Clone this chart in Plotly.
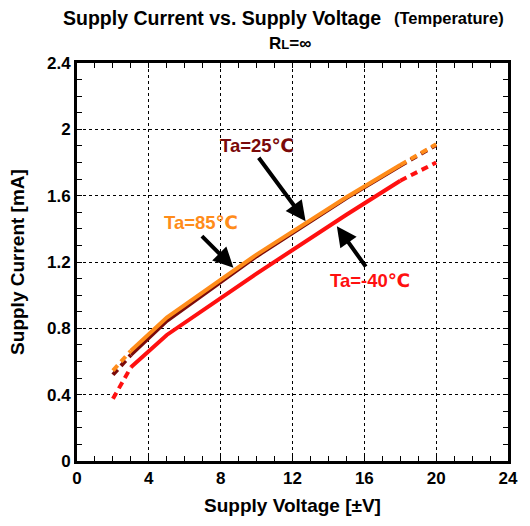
import plotly.graph_objects as go

# Supply voltage [±V] sampling points
voltage = [2, 3, 5, 10, 15, 18, 20]

# Supply current [mA] per ambient temperature
current_85 = [0.545, 0.665, 0.865, 1.245, 1.590, 1.785, 1.910]
current_25 = [0.520, 0.640, 0.845, 1.235, 1.585, 1.780, 1.905]
current_m40 = [0.375, 0.565, 0.760, 1.130, 1.485, 1.690, 1.800]

x_ticks = [0, 4, 8, 12, 16, 20, 24]
y_ticks = [0, 0.4, 0.8, 1.2, 1.6, 2.0, 2.4]
y_tick_text = ["0", "0.4", "0.8", "1.2", "1.6", "2", "2.4"]

FONT = "Liberation Sans, Arial, DejaVu Sans, sans-serif"

series = [
    ("Ta=-40℃", current_m40, "#ff1010"),
    ("Ta=25℃", current_25, "#7a0a0a"),
    ("Ta=85℃", current_85, "#ff8c1a"),
]

fig = go.Figure()

# Solid over the guaranteed range (3..18 V), dashed for the extrapolated ends
for name, cur, color in series:
    i3 = voltage.index(3)
    i18 = voltage.index(18)
    segments = [
        (voltage[: i3 + 1], cur[: i3 + 1], "7px,5px"),
        (voltage[i3: i18 + 1], cur[i3: i18 + 1], "solid"),
        (voltage[i18:], cur[i18:], "7px,5px"),
    ]
    for xs, ys, dash in segments:
        fig.add_trace(go.Scatter(
            x=xs, y=ys, mode="lines", name=name, showlegend=False,
            line=dict(color=color, width=4, dash=dash),
            hoverinfo="skip",
        ))

axis_common = dict(
    showline=True, linecolor="black", linewidth=3, mirror="allticks",
    ticks="inside", ticklen=5, tickwidth=1, tickcolor="black",
    showgrid=True, gridcolor="black", gridwidth=1, griddash="3px,3px",
    zeroline=False,
    tickfont=dict(family=FONT, size=17, color="black", weight="bold"),
)

fig.update_xaxes(
    range=[0, 24], tickvals=x_ticks,
    minor=dict(dtick=1, ticks="inside", ticklen=5, tickcolor="black", showgrid=False),
    title=dict(text="Supply Voltage [±V]", standoff=12,
               font=dict(family=FONT, size=19, color="black", weight="bold")),
    **axis_common,
)
fig.update_yaxes(
    range=[0, 2.4], tickvals=y_ticks, ticktext=y_tick_text,
    minor=dict(dtick=0.1, ticks="inside", ticklen=5, tickcolor="black", showgrid=False),
    title=dict(text="Supply Current [mA]", standoff=18,
               font=dict(family=FONT, size=19, color="black", weight="bold")),
    **axis_common,
)

annotations = [
    # Title block
    dict(text="Supply Current vs. Supply Voltage", xref="paper", yref="paper",
         x=0.336, y=1.112, showarrow=False, xanchor="center", yanchor="middle",
         font=dict(family=FONT, size=19.5, color="black", weight="bold")),
    dict(text="(Temperature)", xref="paper", yref="paper",
         x=0.862, y=1.112, showarrow=False, xanchor="center", yanchor="middle",
         font=dict(family=FONT, size=16.5, color="black", weight="bold")),
    dict(text="R<span style='font-size:13px'>L</span>=∞", xref="paper", yref="paper",
         x=0.495, y=1.049, showarrow=False, xanchor="center", yanchor="middle",
         font=dict(family=FONT, size=17, color="black", weight="bold")),
    # Curve labels
    dict(text="Ta=25℃", x=10.03, y=1.90, showarrow=False,
         font=dict(family=FONT, size=18.5, color="#7a0a0a", weight="bold")),
    dict(text="Ta=85℃", x=6.92, y=1.436, showarrow=False,
         font=dict(family=FONT, size=18.5, color="#ff8c1a", weight="bold")),
    dict(text="Ta=-40℃", x=16.33, y=1.086, showarrow=False,
         font=dict(family=FONT, size=18.5, color="#ff1010", weight="bold")),
    # Pointer arrows
    dict(x=12.73, y=1.446, ax=-48, ay=-65, showarrow=True, text="",
         arrowhead=2, arrowsize=1, arrowwidth=4, arrowcolor="black"),
    dict(x=8.71, y=1.166, ax=-33, ay=-33, showarrow=True, text="",
         arrowhead=2, arrowsize=1, arrowwidth=4, arrowcolor="black"),
    dict(x=14.47, y=1.416, ax=30, ay=42, showarrow=True, text="",
         arrowhead=2, arrowsize=1, arrowwidth=4, arrowcolor="black"),
]

fig.update_layout(
    width=530, height=526,
    margin=dict(l=77, r=15, t=63, b=63),
    paper_bgcolor="white", plot_bgcolor="white",
    annotations=annotations,
    showlegend=False,
)

fig.write_html("out.html")
